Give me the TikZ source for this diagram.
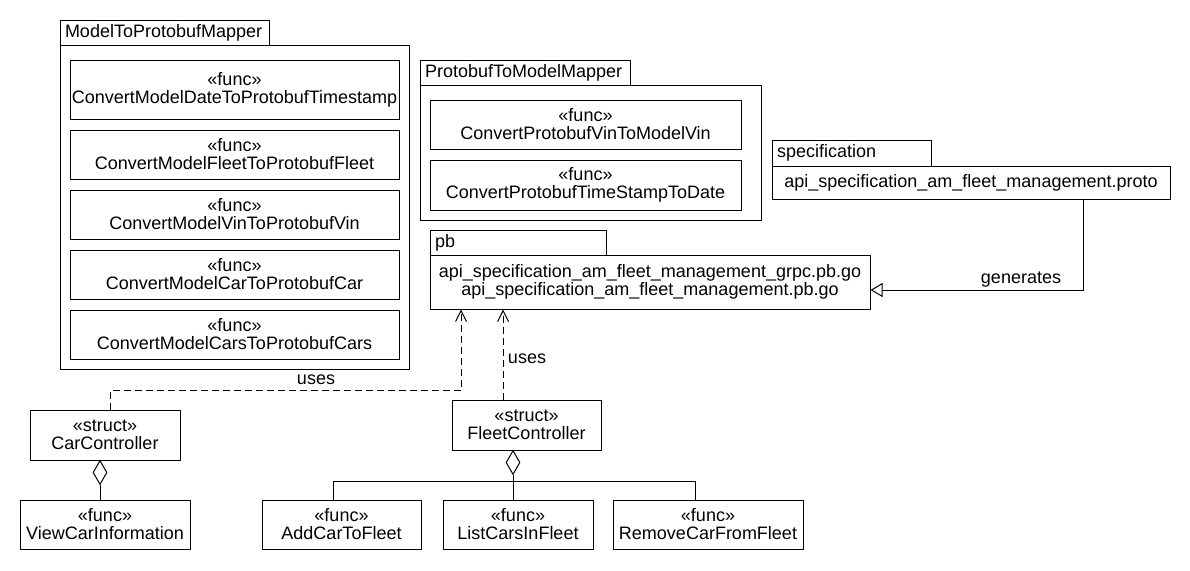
\documentclass[tikz,border=0pt]{standalone}
\usepackage{fontspec}
\setmainfont{Liberation Sans}
\usetikzlibrary{arrows.meta,shapes.geometric}
\tikzset{
  ln/.style={line width=1pt},
  box/.style={draw, ln, align=center, inner sep=0pt, font=\fontsize{18}{18}\selectfont},
  tab/.style={draw, ln, align=left, inner xsep=5pt, inner ysep=0pt, font=\fontsize{18}{18}\selectfont},
  lbl/.style={inner sep=1pt, font=\fontsize{18}{18}\selectfont},
  agg/.style={draw, ln, diamond, aspect=0.58, minimum width=14pt, minimum height=24pt, inner sep=0pt, fill=white},
  usesln/.style={ln, dash pattern=on 7pt off 4pt, -{Straight Barb[length=11pt,width=11pt,line width=1pt]}},
  genln/.style={ln, -{Triangle[open,length=12pt,width=14pt,line width=1pt]}},
}
\begin{document}
\begin{tikzpicture}[x=1pt,y=-1pt]
\useasboundingbox (0,0) rectangle (1190,570);
\fill[white] (0,0) rectangle (1190,570);
% ModelToProtobufMapper
\node[tab, text width=199pt, minimum height=25pt] (mtab) at (164.5,32.5) {ModelToProtobufMapper};
\node[box, minimum width=349pt, minimum height=324pt] (mpk) at (234.5,207) {};
\node[box, minimum width=329pt, minimum height=59pt] (m1) at (234.5,89.5) {«func»\\ConvertModelDateToProtobufTimestamp};
\node[box, minimum width=329pt, minimum height=49pt] (m2) at (234.5,154.5) {«func»\\ConvertModelFleetToProtobufFleet};
\node[box, minimum width=329pt, minimum height=49pt] (m3) at (234.5,214.5) {«func»\\ConvertModelVinToProtobufVin};
\node[box, minimum width=329pt, minimum height=49pt] (m4) at (234.5,274.5) {«func»\\ConvertModelCarToProtobufCar};
\node[box, minimum width=329pt, minimum height=49pt] (m5) at (234.5,334.5) {«func»\\ConvertModelCarsToProtobufCars};
% ProtobufToModelMapper
\node[tab, text width=200pt, minimum height=25pt] (ptab) at (525,72.5) {ProtobufToModelMapper};
\node[box, minimum width=341pt, minimum height=135pt] (ppk) at (590.5,152.5) {};
\node[box, minimum width=311pt, minimum height=49pt] (p1) at (585.5,124.5) {«func»\\ConvertProtobufVinToModelVin};
\node[box, minimum width=311pt, minimum height=50pt] (p2) at (585.5,185) {«func»\\ConvertProtobufTimeStampToDate};
% specification
\node[tab, text width=149pt, minimum height=26pt] (stab) at (851.5,153) {specification};
\node[box, minimum width=398pt, minimum height=33pt] (spec) at (971,182.5) {api\_specification\_am\_fleet\_management.proto};
% pb
\node[tab, text width=166pt, minimum height=25pt] (btab) at (518,242.5) {pb};
\node[box, minimum width=440pt, minimum height=54pt] (pb) at (650,282) {api\_specification\_am\_fleet\_management\_grpc.pb.go\\api\_specification\_am\_fleet\_management.pb.go};
% controllers
\node[box, minimum width=150pt, minimum height=50pt] (car) at (105,435) {«struct»\\CarController};
\node[box, minimum width=170pt, minimum height=49pt] (view) at (105,524.5) {«func»\\ViewCarInformation};
\node[box, minimum width=149pt, minimum height=50pt] (fleet) at (526.5,425) {«struct»\\FleetController};
\node[box, minimum width=159pt, minimum height=49pt] (add) at (341.5,524.5) {«func»\\AddCarToFleet};
\node[box, minimum width=150pt, minimum height=49pt] (list) at (518,524.5) {«func»\\ListCarsInFleet};
\node[box, minimum width=190pt, minimum height=49pt] (remove) at (708,524.5) {«func»\\RemoveCarFromFleet};
% aggregation
\node[agg, anchor=north] (cd) at (100,460) {};
\draw[ln] (cd.south) -- (view.north -| cd.south);
\node[agg, anchor=north] (fd) at (513,450) {};
\coordinate (fj) at (513,481);
\coordinate (a1) at (333,481);
\coordinate (a3) at (695,481);
\draw[ln] (fd.south) -- (fj);
\draw[ln] (a1) -- (a3);
\draw[ln] (a1) -- (add.north -| a1);
\draw[ln] (fj) -- (list.north -| fj);
\draw[ln] (a3) -- (remove.north -| a3);
% uses
\coordinate (u1) at (110,390);
\coordinate (u2) at (461,390);
\draw[usesln] (car.north -| u1) -- (u1) -- (u2) -- (pb.south -| u2);
\node[lbl] (uses1) at (316,380) {uses};
\coordinate (u3) at (503,400);
\draw[usesln] (fleet.north -| u3) -- (pb.south -| u3);
\node[lbl] (uses2) at (527,359) {uses};
% generates
\coordinate (g1) at (1083,290);
\draw[genln] (spec.south -| g1) -- (g1) -- (pb.east |- g1);
\node[lbl] (gen) at (1021,280) {generates};
\end{tikzpicture}
\end{document}
